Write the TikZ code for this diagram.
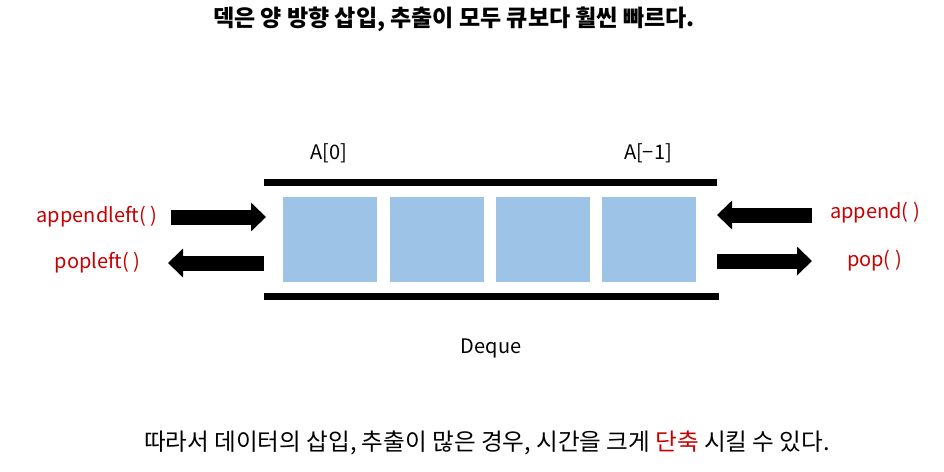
\documentclass[tikz,border=0pt]{standalone}
\usepackage{fontspec}
\setmainfont{Noto Sans CJK KR}
\usepackage{xcolor}
\usepackage{tikz}
\usetikzlibrary{arrows.meta,positioning}
\definecolor{cellblue}{RGB}{157,195,230}
\definecolor{opred}{RGB}{200,0,0}
\tikzset{
  cell/.style      ={fill=cellblue,minimum width=94pt,minimum height=85pt,inner sep=0pt},
  rail/.style      ={line width=7pt},
  blockarrow/.style={line width=15pt,-{Triangle[length=15pt,width=28pt]}},
  oplabel/.style   ={text=opred,inner sep=0pt,font=\fontsize{20}{24}\selectfont},
  idxlabel/.style  ={inner sep=0pt,font=\fontsize{20}{24}\selectfont},
}

\begin{document}
\begin{tikzpicture}[x=1pt,y=-1pt]
  \useasboundingbox (0,0) rectangle (944,471);
  \node[inner sep=0pt,font=\fontsize{23}{27}\selectfont\bfseries] (title) at (454,19)
     {덱은 양 방향 삽입, 추출이 모두 큐보다 훨씬 빠르다.};
  % deque cells
  \foreach \i/\x in {1/330,2/436.5,3/542.5,4/648.5}{
     \node[cell] (c\i) at (\x,239.5){};
  }
  \coordinate (tl) at (264,182); \coordinate (tr) at (717,182);
  \coordinate (bl) at (264,296); \coordinate (br) at (719,296);
  \draw[rail] (tl)--(tr);
  \draw[rail] (bl)--(br);
  \node[idxlabel] (first) at (329,153){A[0]};
  \node[idxlabel] (last) at (648,153){A[−1]};
  % operations
  \coordinate (alS) at (171,217); \coordinate (alE) at (266,217);
  \coordinate (plS) at (264,263); \coordinate (plE) at (168,263);
  \coordinate (arS) at (812,215); \coordinate (arE) at (717,215);
  \coordinate (prS) at (717,261); \coordinate (prE) at (812,261);
  \draw[blockarrow] (alS)--(alE);
  \draw[blockarrow] (plS)--(plE);
  \draw[blockarrow] (arS)--(arE);
  \draw[blockarrow] (prS)--(prE);
  \node[oplabel] (appendleft) at (97,217){appendleft( )};
  \node[oplabel] (popleft) at (97.5,263){popleft( )};
  \node[oplabel] (append) at (875,213){append( )};
  \node[oplabel] (pop) at (874.5,261){pop( )};
  \node[idxlabel] (name) at (491,348){Deque};
  \node[inner sep=0pt,font=\fontsize{23.6}{28}\selectfont] (note) at (487,443)
     {따라서 데이터의 삽입, 추출이 많은 경우, 시간을 크게 {\color{opred}단축} 시킬 수 있다.};
\end{tikzpicture}
\end{document}
